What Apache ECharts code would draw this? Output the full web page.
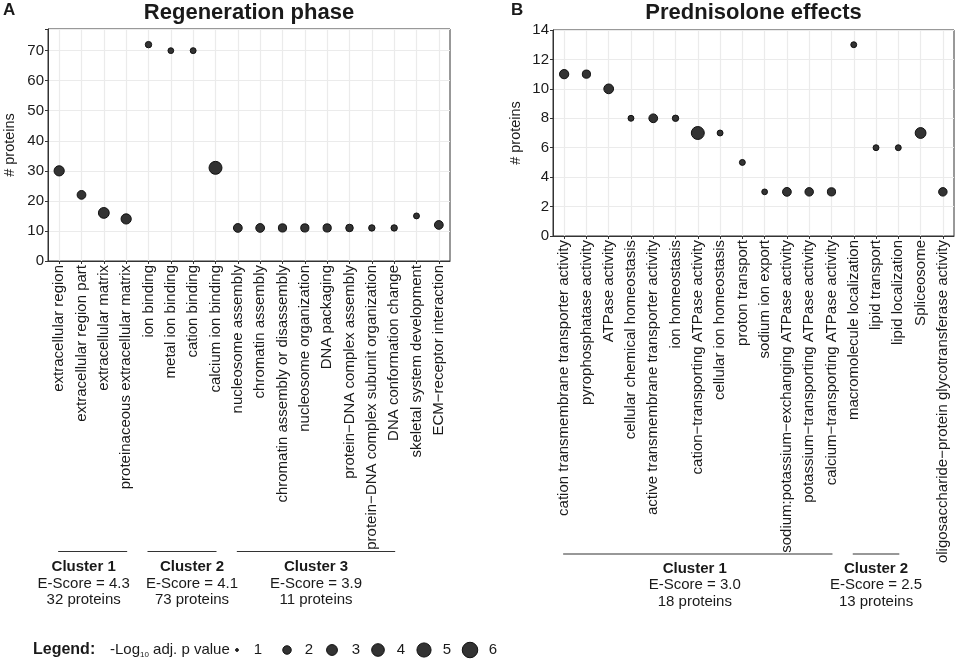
<!DOCTYPE html>
<html><head><meta charset="utf-8">
<script src="https://cdn.jsdelivr.net/npm/echarts@6/dist/echarts.min.js"></script>
<style>html,body{margin:0;padding:0;background:#fff}#c{width:957px;height:663px}</style>
</head><body><div id="c"></div>
<script>
// ---------- data ----------
const leftCategories = [
  'extracellular region','extracellular region part','extracellular matrix','proteinaceous extracellular matrix',
  'ion binding','metal ion binding','cation binding','calcium ion binding',
  'nucleosome assembly','chromatin assembly','chromatin assembly or disassembly','nucleosome organization',
  'DNA packaging','protein\u2212DNA complex assembly','protein\u2212DNA complex subunit organization',
  'DNA conformation change','skeletal system development','ECM\u2212receptor interaction'];
const leftCounts = [30,22,16,14,72,70,70,31,11,11,11,11,11,11,11,11,15,12];
const leftLogP   = [2.7,2.1,3.0,2.7,1.4,1.27,1.3,4.2,2.1,2.1,1.9,1.9,1.9,1.7,1.4,1.4,1.3,2.1];

const rightCategories = [
  'cation transmembrane transporter activity','pyrophosphatase activity','ATPase activity',
  'cellular chemical homeostasis','active transmembrane transporter activity','ion homeostasis',
  'cation\u2212transporting ATPase activity','cellular ion homeostasis','proton transport','sodium ion export',
  'sodium:potassium\u2212exchanging ATPase activity','potassium\u2212transporting ATPase activity',
  'calcium\u2212transporting ATPase activity','macromolecule localization','lipid transport',
  'lipid localization','Spliceosome','oligosaccharide\u2212protein glycotransferase activity'];
const rightCounts = [11,11,10,8,8,8,7,7,5,3,3,3,3,13,6,6,7,3];
const rightLogP   = [2.3,1.9,2.5,1.3,2.1,1.4,4.2,1.3,1.3,1.27,2.1,2.0,1.9,1.3,1.3,1.3,3.0,2.0];

const leftYTicks  = [0,10,20,30,40,50,60,70];
const rightYTicks = [0,2,4,6,8,10,12,14];
const legendValues = [1,2,3,4,5,6];

const leftClusterNames    = ['Cluster 1','Cluster 2','Cluster 3'];
const leftClusterScores   = ['4.3','4.1','3.9'];
const leftClusterProteins = [32,73,11];
const leftClusterRanges   = [[0,3],[4,7],[8,15]];

const rightClusterNames    = ['Cluster 1','Cluster 2'];
const rightClusterScores   = ['3.0','2.5'];
const rightClusterProteins = [18,13];
const rightClusterRanges   = [[0,12],[13,15]];

// ---------- style / layout ----------
const FONT = '"Liberation Sans", Arial, Helvetica, sans-serif';
const TXT = '#1a1a1a';
function dotSize(p){ return 2.8 + 12.7*Math.sqrt(Math.max(0,p-1)/5); }

const chart = echarts.init(document.getElementById('c'), null, {renderer:'canvas'});

function xAxisDef(gi, cats){
  return {
    type:'category', gridIndex:gi, data:cats, boundaryGap:true,
    axisLine:{show:true, lineStyle:{color:'#333', width:1}},
    axisTick:{show:true, alignWithLabel:true, interval:0, length:3, lineStyle:{color:'#333'}},
    axisLabel:{rotate:90, interval:0, margin:4, fontSize:15, color:TXT, fontFamily:FONT},
    splitLine:{show:true, alignWithLabel:true, interval:0, lineStyle:{color:'#ebebeb', width:1.2}}
  };
}
function yAxisDef(gi, max, interval, ticks, gap){
  return {
    type:'value', gridIndex:gi, min:0, max:max, interval:interval,
    name:'# proteins', nameLocation:'middle', nameGap:gap,
    nameTextStyle:{fontSize:14.5, color:TXT, fontFamily:FONT},
    axisLine:{show:true, lineStyle:{color:'#333', width:1}},
    axisTick:{show:true, length:3, lineStyle:{color:'#333'}},
    axisLabel:{margin:4, fontSize:15, color:TXT, fontFamily:FONT,
      formatter:(v)=> ticks.indexOf(v) >= 0 ? String(v) : ''},
    splitLine:{show:true, lineStyle:{color:'#ebebeb', width:1.2}}
  };
}
function seriesDef(gi, cats, counts, logp){
  return {
    type:'scatter', xAxisIndex:gi, yAxisIndex:gi,
    data: counts.map((v,i)=>[cats[i], v, logp[i]]),
    symbol:'circle',
    symbolSize:(val)=>dotSize(val[2]),
    itemStyle:{color:'#333333', borderColor:'#111', borderWidth:1, opacity:1},
    emphasis:{disabled:true}, silent:true, z:5
  };
}

chart.setOption({
  animation:false,
  backgroundColor:'#fff',
  grid:[
    {left:48, top:29, width:402, height:232, show:true, borderColor:'#333', borderWidth:1, backgroundColor:'transparent'},
    {left:553, top:30, width:401, height:206, show:true, borderColor:'#333', borderWidth:1, backgroundColor:'transparent'}
  ],
  xAxis:[xAxisDef(0, leftCategories), xAxisDef(1, rightCategories)],
  yAxis:[yAxisDef(0, 77.2, 10, leftYTicks, 31), yAxisDef(1, 14, 2, rightYTicks, 30)],
  series:[seriesDef(0, leftCategories, leftCounts, leftLogP), seriesDef(1, rightCategories, rightCounts, rightLogP)]
});

// ---------- annotations ----------
const g = [];
function txt(x,y,text,size,bold,align){
  g.push({type:'text', x:x, y:y, silent:true,
    style:{text:text, fill:TXT, font:(bold?'bold ':'')+size+'px '+FONT, textAlign:align||'center', textVerticalAlign:'middle'}});
}
txt(249, 12.5, 'Regeneration phase', 22, true);
txt(753.5, 12.5, 'Prednisolone effects', 22, true);
txt(3, 10, 'A', 17, true, 'left');
txt(511, 10, 'B', 17, true, 'left');

function clusters(axisIdx, names, scores, prots, ranges, lineY, textY, offsets){
  names.forEach((n,i)=>{
    const x1 = chart.convertToPixel({xAxisIndex:axisIdx}, ranges[i][0]);
    const x2 = chart.convertToPixel({xAxisIndex:axisIdx}, ranges[i][1]);
    g.push({type:'line', silent:true, shape:{x1:x1-1, y1:lineY, x2:x2+1, y2:lineY}, style:{stroke:'#333', lineWidth:1.2}});
    const cx = (x1+x2)/2 + offsets[i];
    txt(cx, textY[0], n, 15, true);
    txt(cx, textY[1], 'E-Score = '+scores[i], 15, false);
    txt(cx, textY[2], prots[i]+' proteins', 15, false);
  });
}
clusters(0, leftClusterNames, leftClusterScores, leftClusterProteins, leftClusterRanges, 551.5, [567,583.5,600], [-9,10,0]);
clusters(1, rightClusterNames, rightClusterScores, rightClusterProteins, rightClusterRanges, 554, [568.5,585,601.5], [-3,0]);

// legend
const legY = 650;
txt(33, legY, 'Legend:', 16, true, 'left');
g.push({type:'text', x:110, y:legY, silent:true,
  style:{text:'{a|-Log}{s|10}{a| adj. p value}', textAlign:'left', textVerticalAlign:'middle',
    rich:{a:{fontSize:15, fontFamily:FONT, fill:TXT, lineHeight:18},
          s:{fontSize:8, fontFamily:FONT, fill:TXT, lineHeight:12, verticalAlign:'bottom'}}}});
const legDotX = [237,287,332,378,424,470];
const legLabX = [258,309,356,401,447,493];
legendValues.forEach((v,i)=>{
  const d = dotSize(v);
  g.push({type:'circle', silent:true, shape:{cx:legDotX[i], cy:legY, r:d/2},
    style:{fill:'#333333', stroke:'#111', lineWidth:1}});
  txt(legLabX[i], legY, String(v), 15, false);
});

chart.setOption({graphic:{elements:g}});
</script>
</body></html>
